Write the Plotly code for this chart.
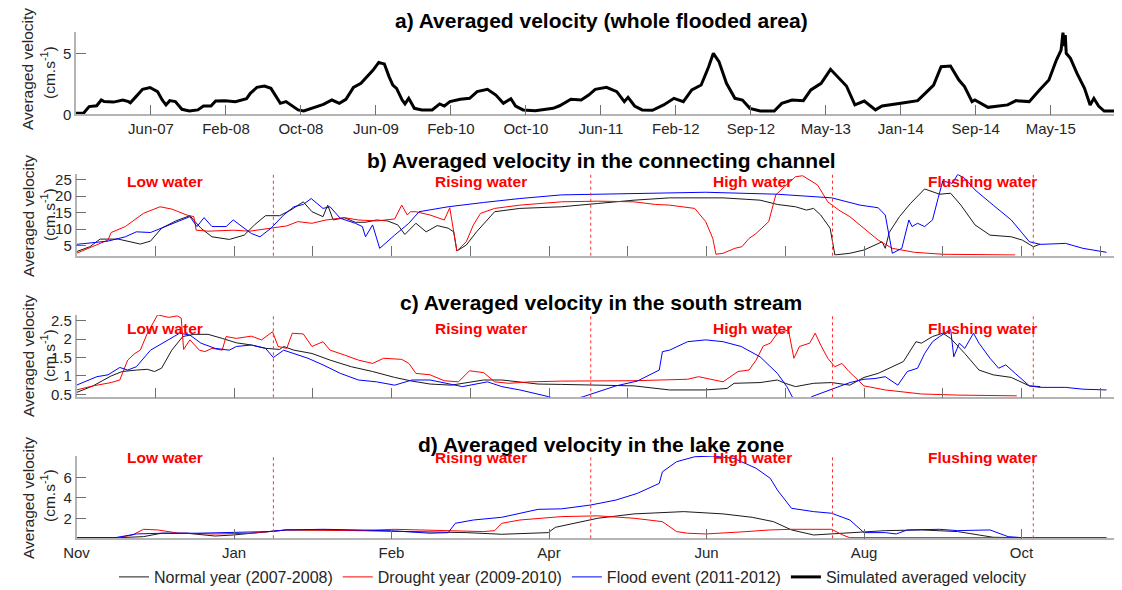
import plotly.graph_objects as go

# ---------------- data ----------------
# Panel a: months since Nov-2006 vs averaged velocity (cm/s)
a_ticks_m = [8, 16, 24, 32, 40, 48, 56, 64, 72, 80, 88, 96, 104]
a_tick_labels = ["Jun-07", "Feb-08", "Oct-08", "Jun-09", "Feb-10", "Oct-10", "Jun-11",
                 "Feb-12", "Sep-12", "May-13", "Jan-14", "Sep-14", "May-15"]
a_sim = [(0,0.08),(0.8,0.08),(1.4,0.63),(2.2,0.7),(2.7,1.17),(3,1.04),(4,1.0),(5,1.17),(5.6,1.04),
         (5.8,0.95),(6.4,1.45),(7.1,2.05),(7.9,2.2),(8.7,1.86),(9.2,1.17),(9.6,0.77),(10,1.12),
         (10.6,1.04),(11.3,0.41),(12.1,0.27),(13,0.36),(13.6,0.68),(14.4,0.68),(14.9,1.09),
         (15.9,1.12),(17,1.04),(18.2,1.28),(18.6,1.72),(19.3,2.21),(20.1,2.32),(20.8,2.13),
         (21.4,1.45),(21.8,0.9),(22.4,1.04),(22.9,0.77),(23.7,0.36),(24.3,0.27),(25.4,0.57),
         (26.4,0.82),(27.3,1.17),(28.1,0.9),(28.8,1.23),(29.6,2.21),(30.4,2.54),(31.1,3.09),
         (31.7,3.63),(32.3,4.26),(32.9,4.13),(33.4,3.09),(33.8,2.4),(34.2,2.13),(34.8,1.17),
         (35.1,0.85),(35.5,1.31),(36.1,0.49),(36.9,0.36),(38,0.36),(38.8,0.85),(39.3,0.68),
         (39.9,1.04),(41,1.23),(42,1.31),(42.8,1.86),(43.9,2.05),(44.8,1.58),(45.6,0.9),
         (46.4,1.28),(46.9,0.68),(47.7,0.36),(49,0.3),(50.9,0.49),(51.6,0.7),(52.8,1.23),
         (53.9,1.17),(54.7,1.58),(55.4,2.05),(56.6,2.21),(57.7,1.86),(58.5,1.04),(58.9,1.39),
         (59.6,0.68),(60.4,0.36),(61.5,0.33),(62.7,0.77),(63.8,1.31),(64.8,1.04),(65.7,2.0),
         (66.7,2.4),(67.5,3.9),(68,5.0),(68.6,4.32),(69.4,2.54),(70.3,1.31),(71.1,1.17),
         (71.9,0.49),(73,0.27),(74.5,0.27),(75.3,0.9),(76.4,1.17),(77.6,1.12),(78.4,2.0),
         (79.5,2.54),(80.5,3.69),(81.2,3.09),(82.2,2.32),(83.1,0.77),(84.1,1.09),(85.3,0.36),
         (86,0.68),(88,0.9),(89.8,1.12),(90.6,1.72),(91.5,2.4),(92.3,3.9),(93.3,3.96),
         (94.2,2.81),(94.8,2.27),(95.6,1.04),(95.9,1.17),(97.3,0.57),(99.4,0.77),(100.3,1.12),
         (101.7,1.04),(102.8,2.0),(103.8,2.81),(104.6,4.45),(105.1,5.27),(105.3,6.7),
         (105.45,5.6),(105.55,6.5),(105.65,5.0),(106.1,4.59),(106.8,3.36),(107.6,2.13),
         (108.2,0.77),(108.6,1.31),(109.1,0.68),(109.7,0.27),(111.6,0.27)]

# Panels b-d: x in "tick units" of the hydrological year (tick every unit)
year_tickvals = [0, 2, 4, 6, 8, 10, 12]
year_ticklabels = ["Nov", "Jan", "Feb", "Apr", "Jun", "Aug", "Oct"]
phase_bounds = [2.50, 6.53, 9.60, 12.15]
phase_names = ["Low water", "Rising water", "High water", "Flushing water"]
phase_centers = [1.12, 5.14, 8.58, 11.51]

b_normal = [(0,3.2),(0.17,4.7),(0.3,7.0),(0.53,7.0),(0.81,5.5),(0.94,6.4),(1.08,10.3),(1.26,12.5),
            (1.44,14.1),(1.58,10.3),(1.72,7.7),(1.94,6.9),(2.13,8.2),(2.26,11.3),(2.4,14.1),
            (2.58,14.1),(2.72,15.8),(2.88,18.3),(2.99,15.3),(3.13,13.8),(3.19,17.3),(3.26,12.8),
            (3.4,13.5),(3.54,12.1),(3.67,12.1),(3.81,12.8),(3.95,12.5),(4.08,11.3),(4.17,8.4),
            (4.31,11.8),(4.44,9.2),(4.58,11.1),(4.72,10.3),(4.79,9.2),(4.83,3.4),(4.95,5.2),
            (5.08,9.2),(5.2,12.3),(5.31,15.3),(5.63,16.3),(6.16,16.8),(6.62,17.8),(7.08,18.8),
            (7.53,19.5),(8.21,19.5),(8.68,18.8),(8.9,17.5),(9.13,16.8),(9.27,15.8),(9.36,16.3),
            (9.45,14.3),(9.57,10.3),(9.63,2.2),(9.82,2.7),(10.0,3.7),(10.14,5.2),(10.23,6.2),
            (10.27,4.2),(10.32,9.0),(10.45,13.8),(10.59,17.8),(10.77,22.2),(10.96,20.6),
            (11.1,20.9),(11.23,17.3),(11.41,11.3),(11.6,8.2),(11.87,7.7),(12.01,6.7),
            (12.15,4.7),(12.24,5.5)]
b_drought = [(0,2.7),(0.21,4.7),(0.4,6.7),(0.44,9.0),(0.62,10.8),(0.85,14.8),(1.06,16.8),(1.21,16.1),
             (1.4,14.3),(1.49,13.8),(1.52,9.7),(1.67,9.4),(1.99,9.7),(2.2,9.4),(2.49,10.3),
             (2.67,11.0),(2.81,12.3),(2.99,11.8),(3.17,12.8),(3.4,13.5),(3.58,12.8),(3.81,12.5),
             (4.04,13.1),(4.13,17.3),(4.2,14.3),(4.24,15.3),(4.31,15.3),(4.49,14.3),(4.67,12.8),
             (4.74,16.5),(4.83,3.4),(4.95,6.2),(5.04,11.3),(5.13,14.8),(5.31,16.3),(5.63,17.3),
             (6.16,18.3),(6.62,18.5),(7.08,18.3),(7.35,17.5),(7.53,17.3),(7.85,16.3),(7.99,12.3),
             (8.08,7.2),(8.12,2.4),(8.21,2.7),(8.36,4.2),(8.45,4.7),(8.54,7.2),(8.63,8.7),
             (8.79,12.3),(8.88,20.4),(8.99,22.9),(9.13,25.9),(9.22,26.2),(9.41,23.4),(9.54,18.3),
             (9.68,15.8),(9.82,13.8),(10.0,10.3),(10.18,6.7),(10.36,4.2),(10.64,3.0),(11.0,2.4),
             (11.92,2.2)]
b_flood = [(0,5.4),(0.4,6.4),(0.62,7.7),(0.76,9.2),(0.94,9.0),(1.12,10.8),(1.31,12.5),(1.44,13.8),
           (1.53,10.8),(1.62,13.5),(1.72,10.8),(1.9,10.8),(1.99,12.8),(2.1,10.8),(2.22,8.7),
           (2.33,7.7),(2.47,10.3),(2.63,14.3),(2.76,16.8),(2.88,17.5),(2.98,19.3),(3.13,16.3),
           (3.22,16.8),(3.35,13.3),(3.54,11.8),(3.63,10.8),(3.67,7.7),(3.76,11.3),(3.85,4.2),
           (4.04,8.2),(4.22,11.8),(4.35,15.3),(4.72,16.8),(5.17,18.1),(5.63,19.3),(6.16,20.4),
           (7.08,20.9),(7.99,21.2),(8.9,20.6),(9.59,19.5),(9.95,17.3),(10.18,16.5),(10.27,14.3),
           (10.34,5.2),(10.36,2.7),(10.48,4.2),(10.57,12.8),(10.61,10.8),(10.68,11.8),
           (10.77,10.8),(10.87,12.8),(10.94,19.3),(11.0,24.6),(11.12,23.9),(11.19,26.6),
           (11.28,25.4),(11.41,21.9),(11.64,17.3),(11.87,12.8),(12.1,6.2),(12.24,5.4),
           (12.56,5.7),(12.78,4.2),(13.08,3.0)]

c_normal = [(0,0.55),(0.21,0.73),(0.44,1.0),(0.58,1.12),(0.76,1.16),(0.9,1.18),(0.99,1.12),(1.08,1.21),
            (1.21,1.7),(1.35,2.07),(1.49,2.13),(1.67,2.13),(1.85,2.02),(2.03,1.9),(2.22,1.84),
            (2.4,1.75),(2.58,1.72),(2.63,1.8),(2.76,1.7),(2.99,1.61),(3.22,1.43),(3.49,1.25),
            (3.76,1.12),(4.04,0.96),(4.26,0.86),(4.49,0.78),(4.76,0.75),(4.95,0.82),(5.17,0.89),
            (5.4,0.89),(5.63,0.84),(5.86,0.78),(6.16,0.77),(6.62,0.75),(7.08,0.73),(7.53,0.62),
            (7.99,0.62),(8.26,0.66),(8.35,0.8),(8.68,0.82),(8.9,0.89),(9.0,0.8),(9.13,0.71),
            (9.36,0.8),(9.59,0.82),(9.82,0.75),(10.0,0.96),(10.18,1.07),(10.32,1.21),(10.5,1.39),
            (10.66,1.93),(10.73,1.89),(10.87,2.07),(11.0,2.16),(11.1,2.02),(11.28,1.61),
            (11.46,1.16),(11.64,1.03),(11.87,0.96),(12.1,0.73),(12.24,0.71)]
c_drought = [(0,0.62),(0.21,0.73),(0.44,0.82),(0.55,0.89),(0.65,1.43),(0.74,1.61),(0.81,1.7),(0.9,2.16),
             (1.03,2.66),(1.17,2.59),(1.28,2.63),(1.33,2.57),(1.36,1.72),(1.44,1.98),(1.56,1.7),
             (1.63,1.66),(1.72,1.75),(1.85,1.7),(1.9,2.07),(2.03,2.02),(2.22,2.08),(2.35,1.98),
             (2.49,2.2),(2.56,1.8),(2.67,1.75),(2.74,2.16),(2.88,2.14),(2.99,1.8),(3.13,1.93),
             (3.22,1.7),(3.4,1.57),(3.58,1.43),(3.76,1.34),(3.9,1.48),(4.13,1.45),(4.22,1.34),
             (4.31,1.07),(4.49,1.03),(4.67,0.87),(4.85,0.84),(4.99,1.14),(5.17,1.09),(5.31,0.84),
             (5.49,0.8),(5.76,0.84),(6.16,0.86),(7.08,0.87),(7.76,0.91),(7.9,0.98),(8.21,0.84),
             (8.4,1.12),(8.54,1.16),(8.63,1.43),(8.72,1.81),(8.81,1.89),(8.9,2.16),(9.04,2.25),
             (9.11,1.48),(9.18,1.8),(9.31,1.89),(9.38,2.16),(9.45,1.84),(9.54,1.48),(9.63,1.25),
             (9.72,1.34),(9.81,1.12),(10.0,0.73),(10.27,0.62),(10.73,0.51),(11.19,0.48),(11.94,0.46)]
c_flood = [(0,0.75),(0.26,0.98),(0.4,1.03),(0.55,1.23),(0.65,1.16),(0.76,1.25),(0.94,1.7),(1.12,1.93),
           (1.31,2.16),(1.44,2.11),(1.58,1.89),(1.76,1.75),(1.94,1.7),(2.03,1.8),(2.22,1.84),
           (2.4,1.75),(2.5,1.5),(2.63,1.7),(2.76,1.61),(2.94,1.48),(3.13,1.3),(3.35,1.07),
           (3.58,0.89),(3.81,0.84),(4.04,0.75),(4.26,0.89),(4.49,0.89),(4.67,0.82),(4.9,0.71),
           (5.22,0.84),(5.4,0.71),(5.63,0.62),(5.99,0.44),(6.2,0.3),(6.44,0.44),(6.85,0.73),
           (7.12,0.86),(7.4,1.16),(7.44,1.66),(7.53,1.7),(7.76,1.93),(7.99,1.98),(8.21,1.93),
           (8.44,1.8),(8.68,1.52),(8.9,1.07),(9.02,0.71),(9.11,0.35),(9.22,0.25),(9.34,0.44),
           (9.59,0.64),(9.82,0.82),(10.0,0.91),(10.14,0.93),(10.27,0.98),(10.43,0.75),(10.55,1.12),
           (10.68,1.21),(10.77,1.61),(10.87,1.93),(10.96,2.07),(11.1,2.27),(11.14,1.52),
           (11.21,1.89),(11.28,1.75),(11.39,2.16),(11.46,1.89),(11.6,1.48),(11.71,1.21),
           (11.8,1.3),(11.92,1.07),(12.1,0.73),(12.24,0.69),(12.56,0.69),(12.78,0.64),(13.08,0.62)]

d_normal = [(0,0.16),(0.53,0.16),(0.85,0.26),(1.08,0.59),(1.4,0.59),(1.58,0.42),(1.76,0.32),(1.99,0.42),
            (2.22,0.59),(2.67,0.91),(3.13,0.91),(3.58,0.84),(4.04,0.81),(4.49,0.75),(4.95,0.65),
            (5.4,0.49),(5.86,0.59),(5.99,0.65),(6.08,1.16),(6.16,1.29),(6.39,1.71),(6.62,2.04),
            (7.08,2.46),(7.71,2.68),(8.21,2.46),(8.58,2.13),(8.85,1.71),(9.08,0.91),(9.36,0.42),
            (9.59,0.52),(9.82,0.65),(10.27,0.84),(10.73,0.91),(11.19,0.75),(11.64,0.2),(11.96,0.16)]
d_drought = [(0,0.16),(0.53,0.16),(0.71,0.42),(0.85,0.97),(1.03,0.91),(1.3,0.59),(1.76,0.52),(2.22,0.59),
             (2.67,0.91),(3.13,0.91),(3.58,0.84),(4.04,0.97),(4.49,0.91),(4.76,0.84),(5.17,0.75),
             (5.31,0.84),(5.4,1.55),(5.63,1.87),(6.16,2.2),(6.62,2.27),(7.08,2.04),(7.44,1.71),
             (7.62,0.75),(7.76,0.59),(7.99,0.52),(8.45,0.72),(8.81,0.91),(9.08,0.97),(9.59,0.97),
             (9.73,0.42),(9.82,0.16),(11.96,0.16)]
d_flood = [(0,0.16),(0.49,0.16),(0.76,0.52),(1.08,0.59),(1.53,0.59),(1.99,0.65),(2.44,0.75),(2.67,0.91),
           (3.13,0.97),(3.58,0.91),(4.04,0.81),(4.49,0.59),(4.72,0.65),(4.81,1.55),(5.04,1.87),
           (5.4,2.13),(5.86,2.9),(6.16,2.95),(6.53,3.32),(6.85,3.8),(7.12,4.44),(7.4,5.41),
           (7.44,6.53),(7.62,7.51),(7.85,7.99),(8.08,8.05),(8.35,7.83),(8.63,6.87),(8.81,5.9),
           (8.9,4.77),(9.08,3.0),(9.36,2.68),(9.59,2.52),(9.82,1.87),(10.0,0.65),(10.27,0.65),
           (10.41,0.52),(10.55,0.91),(10.96,0.97),(11.19,0.84),(11.6,0.91),(11.83,0.26),
           (12.01,0.16),(13.08,0.16)]

series_names = ["Normal year (2007-2008)", "Drought year (2009-2010)", "Flood event (2011-2012)"]
series_colors = ["#1a1a1a", "#ff0000", "#0000ff"]

# ---------------- layout helpers ----------------
# the page body has an 8px default margin, so the figure is drawn 8px in from the window edge
OFF = 8
VW, VH = 1122, 590
W, H = VW - OFF, VH - OFF
FONT = "Liberation Sans, Arial, sans-serif"
TXT = "#262626"


def px(xv):
    return (xv - OFF) / W


def py(yv):
    return 1 - (yv - OFF) / H


def unzip(pairs):
    return [p[0] for p in pairs], [p[1] for p in pairs]


fig = go.Figure()

# panel a
xa, ya = unzip(a_sim)
fig.add_trace(go.Scatter(x=xa, y=ya, mode="lines", line=dict(color="black", width=3),
                         name="Simulated averaged velocity", legendrank=4,
                         xaxis="x", yaxis="y"))

panels = [("x2", "y2", [b_normal, b_drought, b_flood]),
          ("x3", "y3", [c_normal, c_drought, c_flood]),
          ("x4", "y4", [d_normal, d_drought, d_flood])]
for pi, (xr, yr, sers) in enumerate(panels):
    for si, s in enumerate(sers):
        xs, ys = unzip(s)
        fig.add_trace(go.Scatter(x=xs, y=ys, mode="lines",
                                 line=dict(color=series_colors[si], width=1),
                                 name=series_names[si], legendgroup=series_names[si],
                                 showlegend=(pi == 0), legendrank=si + 1,
                                 xaxis=xr, yaxis=yr))

axis_common = dict(showline=True, linecolor="#b4b4b4", linewidth=1.5, ticks="inside",
                   ticklen=10, tickcolor="#707070", tickwidth=1, showgrid=False,
                   zeroline=False, automargin=False,
                   tickfont=dict(family=FONT, size=15, color=TXT))

xdom_a = [px(76), 1]
xdom = [px(76.5), 1]
ydoms = [[py(114.3), py(32)], [py(255.7), py(174.3)], [py(397.3), py(315)], [py(538.3), py(456)]]
year_range = [0, (VW - 76.5) / 78.75]

fig.update_layout(
    width=W, height=H, margin=dict(l=0, r=0, t=0, b=0, pad=0, autoexpand=False),
    paper_bgcolor="white", plot_bgcolor="white",
    font=dict(family=FONT, color=TXT),
    xaxis=dict(domain=xdom_a, anchor="y", range=[0, 111.6], tickvals=a_ticks_m,
               ticktext=a_tick_labels, **axis_common),
    yaxis=dict(domain=ydoms[0], anchor="x", range=[0, 6.75], tickvals=[0, 5], **axis_common),
    xaxis2=dict(domain=xdom, anchor="y2", range=year_range, tickvals=list(range(1, 14)),
                showticklabels=False, **axis_common),
    yaxis2=dict(domain=ydoms[1], anchor="x2", range=[1.97, 26.64],
                tickvals=[5, 10, 15, 20, 25], **axis_common),
    xaxis3=dict(domain=xdom, anchor="y3", range=year_range, tickvals=list(range(1, 14)),
                showticklabels=False, **axis_common),
    yaxis3=dict(domain=ydoms[2], anchor="x3", range=[0.42, 2.655],
                tickvals=[0.5, 1, 1.5, 2, 2.5], ticktext=["0.5", "1", "1.5", "2", "2.5"],
                **axis_common),
    xaxis4=dict(domain=xdom, anchor="y4", range=year_range, tickvals=year_tickvals,
                ticktext=year_ticklabels, **axis_common),
    yaxis4=dict(domain=ydoms[3], anchor="x4", range=[0.1, 8.06], tickvals=[2, 4, 6],
                **axis_common),
    legend=dict(orientation="h", x=px(114), xanchor="left", y=py(577), yanchor="middle",
                font=dict(family=FONT, size=16, color=TXT), bgcolor="rgba(0,0,0,0)",
                itemwidth=30, tracegroupgap=0),
    showlegend=True,
)

# titles
titles = [("a) Averaged velocity (whole flooded area)", 20),
          ("b) Averaged velocity in the connecting channel", 161),
          ("c) Averaged velocity in the south stream", 302),
          ("d) Averaged velocity in the lake zone", 444)]
for t, ypx in titles:
    fig.add_annotation(text="<b>%s</b>" % t, x=px(601), y=py(ypx), xref="paper", yref="paper",
                       showarrow=False, xanchor="center", yanchor="middle",
                       font=dict(family=FONT, size=21, color="black"))

# y-axis titles
ylab_centers = [(69, 73), (216, 215), (356, 356), (498, 496)]
for c1, c2 in ylab_centers:
    fig.add_annotation(text="Averaged velocity", x=px(28), y=py(c1), xref="paper", yref="paper",
                       showarrow=False, textangle=-90, xanchor="center", yanchor="middle",
                       font=dict(family=FONT, size=15.5, color=TXT))
    fig.add_annotation(text="(cm.s<sup>-1</sup>)", x=px(48), y=py(c2), xref="paper", yref="paper",
                       showarrow=False, textangle=-90, xanchor="center", yanchor="middle",
                       font=dict(family=FONT, size=15.5, color=TXT))

# phase boundaries and labels
phase_label_y = [181, 328, 457]
for pi, (xr, yr, _) in enumerate(panels):
    for xb in phase_bounds:
        fig.add_shape(type="line", xref=xr, yref=yr + " domain", x0=xb, x1=xb, y0=0, y1=1,
                      line=dict(color="#ff3030", width=1, dash="3px,3px"))
    for name, xc in zip(phase_names, phase_centers):
        fig.add_annotation(text="<b>%s</b>" % name, x=xc, xref=xr, y=py(phase_label_y[pi]),
                           yref="paper", showarrow=False, xanchor="center", yanchor="middle",
                           font=dict(family=FONT, size=15.5, color="#ff0000"))

fig.write_html("out.html")
